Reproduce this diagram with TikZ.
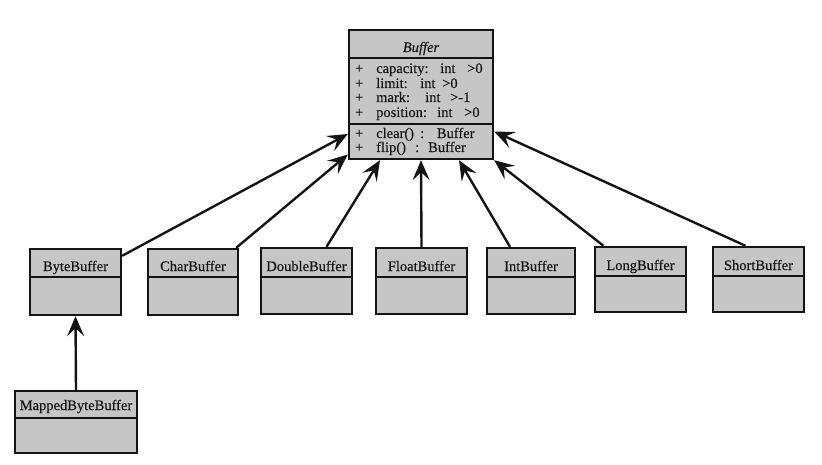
\documentclass[tikz,border=0pt]{standalone}
\usepackage{fontspec}
\setmainfont{Liberation Serif}[UprightFeatures={FakeBold=0.35},ItalicFeatures={FakeBold=0.35}]
\usetikzlibrary{arrows.meta}
\definecolor{boxfill}{RGB}{198,198,198}
\definecolor{ink}{RGB}{20,20,20}
\tikzset{
  cls/.style={draw=ink, fill=boxfill, line width=2.4pt, inner sep=0pt, rectangle},
  lbl/.style={anchor=base west, inner sep=0pt, font=\rmfamily\fontsize{14.5}{15}\selectfont, text=ink},
  ttl/.style={anchor=base, inner sep=0pt, font=\rmfamily\fontsize{14.5}{15}\selectfont, text=ink},
  inh/.style={draw=ink, line width=2.4pt, -{Stealth[length=20pt,width=17pt,inset=8pt]}},
  sepline/.style={draw=ink, line width=2.4pt},
}
\newcommand\pl{\makebox[21pt][l]{+}}
\begin{document}
\begin{tikzpicture}[x=1pt,y=-1pt]
\useasboundingbox (0,0) rectangle (822,465);

% Buffer class
\node[cls, minimum width=144pt, minimum height=129pt] (buffer) at (421,94.5) {};
\draw[sepline] (buffer.west |- 0,58) -- (buffer.east |- 0,58);
\draw[sepline] (buffer.west |- 0,124) -- (buffer.east |- 0,124);
\node[ttl, font=\rmfamily\fontsize{14.5}{15}\selectfont\itshape] (buffertitle) at (421,52) {Buffer};
\node[lbl] (attr1) at (355,73) {\pl\makebox[64pt][l]{capacity:}\makebox[27pt][l]{int}>0};
\node[lbl] (attr2) at (355,88) {\pl\makebox[44pt][l]{limit:}\makebox[22pt][l]{int}>0};
\node[lbl] (attr3) at (355,102) {\pl\makebox[49pt][l]{mark:}\makebox[25pt][l]{int}>-1};
\node[lbl] (attr4) at (355,117) {\pl\makebox[61pt][l]{position:}\makebox[27pt][l]{int}>0};
\node[lbl] (op1) at (355,138) {\pl\makebox[44pt][l]{clear()}\makebox[16.7pt][l]{:}Buffer};
\node[lbl] (op2) at (355,152) {\pl\makebox[39pt][l]{flip()}\makebox[13pt][l]{:}Buffer};

% Subclasses
\node[cls, minimum width=91pt, minimum height=66pt] (byte) at (75.5,282) {};
\draw[sepline] (byte.west |- 0,277) -- (byte.east |- 0,277);
\node[ttl] (bytetitle) at (75.5,271) {ByteBuffer};

\node[cls, minimum width=90pt, minimum height=66pt] (char) at (193,282) {};
\draw[sepline] (char.west |- 0,277) -- (char.east |- 0,277);
\node[ttl] (chartitle) at (193,271) {CharBuffer};

\node[cls, minimum width=91pt, minimum height=66pt] (double) at (306.5,281) {};
\draw[sepline] (double.west |- 0,277) -- (double.east |- 0,277);
\node[ttl] (doubletitle) at (306.5,271) {DoubleBuffer};

\node[cls, minimum width=91pt, minimum height=66pt] (float) at (421.5,281) {};
\draw[sepline] (float.west |- 0,277) -- (float.east |- 0,277);
\node[ttl] (floattitle) at (421.5,271) {FloatBuffer};

\node[cls, minimum width=88pt, minimum height=66pt] (int) at (531,281) {};
\draw[sepline] (int.west |- 0,277) -- (int.east |- 0,277);
\node[ttl] (inttitle) at (531,271) {IntBuffer};

\node[cls, minimum width=91pt, minimum height=65pt] (long) at (640.5,279.5) {};
\draw[sepline] (long.west |- 0,276) -- (long.east |- 0,276);
\node[ttl] (longtitle) at (640.5,270) {LongBuffer};

\node[cls, minimum width=91pt, minimum height=65pt] (short) at (758.5,279.5) {};
\draw[sepline] (short.west |- 0,276) -- (short.east |- 0,276);
\node[ttl] (shorttitle) at (758.5,270) {ShortBuffer};

\node[cls, minimum width=122pt, minimum height=62pt] (mapped) at (76,422) {};
\draw[sepline] (mapped.west |- 0,418) -- (mapped.east |- 0,418);
\node[ttl] (mappedtitle) at (76,410) {MappedByteBuffer};

% Inheritance connectors
\draw[inh] ([yshift=-8pt]byte.north east) -- ([yshift=-39.5pt]buffer.west);
\draw[inh] ([xshift=-3pt]char.north east) -- ([yshift=-60pt]buffer.west);
\draw[inh] ([xshift=20pt]double.north) -- ([xshift=-41pt]buffer.south);
\draw[inh] (float.north) -- (buffer.south);
\draw[inh] ([xshift=-21pt]int.north) -- ([xshift=38pt]buffer.south);
\draw[inh] ([xshift=-37pt]long.north) -- (buffer.south east);
\draw[inh] ([xshift=-13pt]short.north) -- ([yshift=-37pt]buffer.east);
\draw[inh] (mapped.north) -- (byte.south);
\end{tikzpicture}
\end{document}
